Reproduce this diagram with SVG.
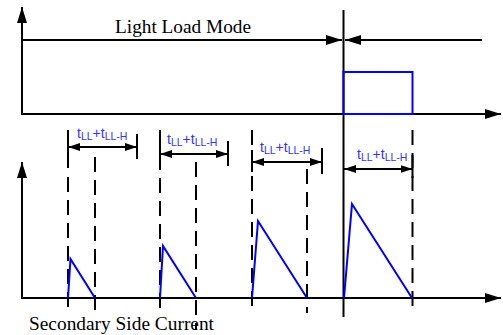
<svg xmlns="http://www.w3.org/2000/svg" width="503" height="335" viewBox="0 0 503 335">
<defs>
<style>
.ax{stroke:#000;stroke-width:2;fill:none}
.dash{stroke:#000;stroke-width:2;fill:none;stroke-dasharray:15 8}
.solid{stroke:#000;stroke-width:2;fill:none}
.blue{stroke:#0000ff;stroke-width:2;fill:none}
.dim{stroke:#000;stroke-width:2;fill:none;marker-start:url(#ah);marker-end:url(#ah)}
.lbl{font-family:"Liberation Sans",Arial,sans-serif;fill:#3333ff;font-size:14px}
.sub{font-size:10.5px}
.cap{font-family:"Liberation Serif","DejaVu Serif",serif;font-size:19px;fill:#000}
</style>
<marker id="ah" viewBox="0 0 12 8" refX="12" refY="4" markerWidth="12" markerHeight="8" markerUnits="userSpaceOnUse" orient="auto-start-reverse">
<path d="M0,0 L12,4 L0,8 Z" fill="#000"/>
</marker>
<marker id="big" viewBox="0 0 16 10" refX="16" refY="5" markerWidth="16" markerHeight="10" markerUnits="userSpaceOnUse" orient="auto">
<path d="M0,0 L16,5 L0,10 Z" fill="#000"/>
</marker>
</defs>
<g id="connectors">
<line class="ax" x1="22" y1="115" x2="22" y2="7" marker-end="url(#big)"/>
<line class="ax" x1="21" y1="114" x2="501" y2="114" marker-end="url(#big)"/>
<line class="ax" x1="22" y1="299" x2="22" y2="162" marker-end="url(#big)"/>
<line class="ax" x1="21" y1="298" x2="501" y2="298" marker-end="url(#big)"/>
<line class="ax" x1="22" y1="40" x2="342" y2="40" marker-end="url(#big)"/>
<line class="ax" x1="482" y1="40" x2="345" y2="40" marker-end="url(#big)"/>
<line class="solid" x1="343.5" y1="10" x2="343.5" y2="317"/>
<line class="solid" x1="68" y1="130" x2="68" y2="168"/>
<line class="dash" x1="68" y1="177" x2="68" y2="308"/>
<line class="dash" x1="95" y1="157" x2="95" y2="312"/>
<line class="solid" x1="137" y1="134" x2="137" y2="159"/>
<line class="dim" x1="68" y1="147" x2="137" y2="147"/>
<line class="solid" x1="160" y1="130" x2="160" y2="170"/>
<line class="dash" x1="160" y1="178" x2="160" y2="308"/>
<line class="dash" x1="196" y1="162" x2="196" y2="330"/>
<line class="solid" x1="228" y1="141" x2="228" y2="166"/>
<line class="dim" x1="160" y1="154" x2="228" y2="154"/>
<line class="dash" x1="252" y1="130" x2="252" y2="308"/>
<line class="solid" x1="252" y1="150" x2="252" y2="172"/>
<line class="dash" x1="307" y1="169" x2="307" y2="313"/>
<line class="solid" x1="322" y1="148" x2="322" y2="174"/>
<line class="dim" x1="252" y1="162" x2="322" y2="162"/>
<line class="dash" x1="412.5" y1="130" x2="412.5" y2="308"/>
<line class="solid" x1="412.5" y1="155" x2="412.5" y2="178"/>
<line class="dim" x1="344" y1="169" x2="412.5" y2="169"/>
</g>
<g id="signal-top">
<rect x="343.5" y="72" width="69" height="42" fill="none" stroke="#0000ff" stroke-width="2"/>
</g>
<g id="signal-bottom">
<polyline class="blue" points="68,298 70.5,259 95,298"/>
<polyline class="blue" points="160,298 163,246 196,298"/>
<polyline class="blue" points="252,298 258,221 307,298"/>
<polyline class="blue" points="344,298 352,204 412,298"/>
</g>
<g id="labels">
<text class="cap" x="115" y="33" textLength="136" lengthAdjust="spacingAndGlyphs">Light Load Mode</text>
<text class="cap" x="29" y="330" textLength="185" lengthAdjust="spacingAndGlyphs">Secondary Side Current</text>
<text class="lbl" x="77" y="138">t<tspan class="sub" dy="2">LL</tspan><tspan dy="-2">+t</tspan><tspan class="sub" dy="2">LL-H</tspan></text>
<text class="lbl" x="167" y="144">t<tspan class="sub" dy="2">LL</tspan><tspan dy="-2">+t</tspan><tspan class="sub" dy="2">LL-H</tspan></text>
<text class="lbl" x="260" y="152">t<tspan class="sub" dy="2">LL</tspan><tspan dy="-2">+t</tspan><tspan class="sub" dy="2">LL-H</tspan></text>
<text class="lbl" x="357" y="159">t<tspan class="sub" dy="2">LL</tspan><tspan dy="-2">+t</tspan><tspan class="sub" dy="2">LL-H</tspan></text>
</g>
</svg>
